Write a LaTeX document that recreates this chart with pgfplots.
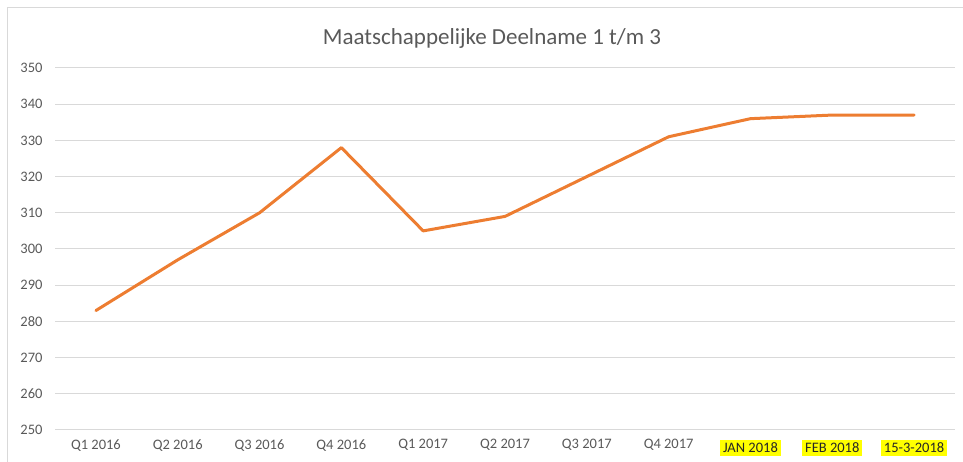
\documentclass[border=0pt]{standalone}
\usepackage{pgfplots}
\pgfplotsset{compat=1.18}
\usepackage{fontspec}
\setmainfont{Carlito}
\definecolor{xlorange}{HTML}{ED7D31}
\definecolor{xlgrid}{HTML}{D9D9D9}
\definecolor{xltext}{HTML}{595959}
\definecolor{hl}{HTML}{FFFF00}
\newcommand{\hlb}[1]{{\setlength{\fboxsep}{3pt}\colorbox{hl}{\color{black!85}#1}}}
\begin{document}
\begin{tikzpicture}[x=1pt,y=1pt]
\path[use as bounding box] (0,0) rectangle (963,462);
\draw[xlgrid, line width=1pt] (7,0) -- (7,454) -- (963,454);
\node[text=xltext, font=\fontsize{23}{27}\selectfont] at (492,424) {Maatschappelijke Deelname 1 t/m 3};
\begin{axis}[
  at={(55pt,32pt)}, anchor=south west,
  scale only axis, width=900pt, height=362pt,
  xmin=-0.5, xmax=10.5, ymin=250, ymax=350,
  xtick={0,...,10},
  xticklabels={Q1 2016,Q2 2016,Q3 2016,Q4 2016,Q1 2017,Q2 2017,Q3 2017,Q4 2017,\hlb{JAN 2018},\hlb{FEB 2018},\hlb{15-3-2018}},
  ytick={250,260,...,350},
  ymajorgrids, grid style={xlgrid, line width=1pt},
  axis x line*=bottom, axis y line*=left,
  x axis line style={xlgrid, line width=1pt, -},
  y axis line style={draw=none},
  major tick length=0pt,
  tick label style={text=xltext, font=\fontsize{14.5}{17}\selectfont},
  /pgf/number format/assume math mode=true,
  yticklabel style={anchor=east, xshift=-9pt},
  xticklabel style={yshift=-6pt},
  clip=false,
]
\addplot[xlorange, line width=3pt, line join=round, line cap=round] coordinates {
(0,283) (1,297) (2,310) (3,328) (4,305) (5,309) (6,320) (7,331) (8,336) (9,337) (10,337)
};
\end{axis}
\end{tikzpicture}
\end{document}
